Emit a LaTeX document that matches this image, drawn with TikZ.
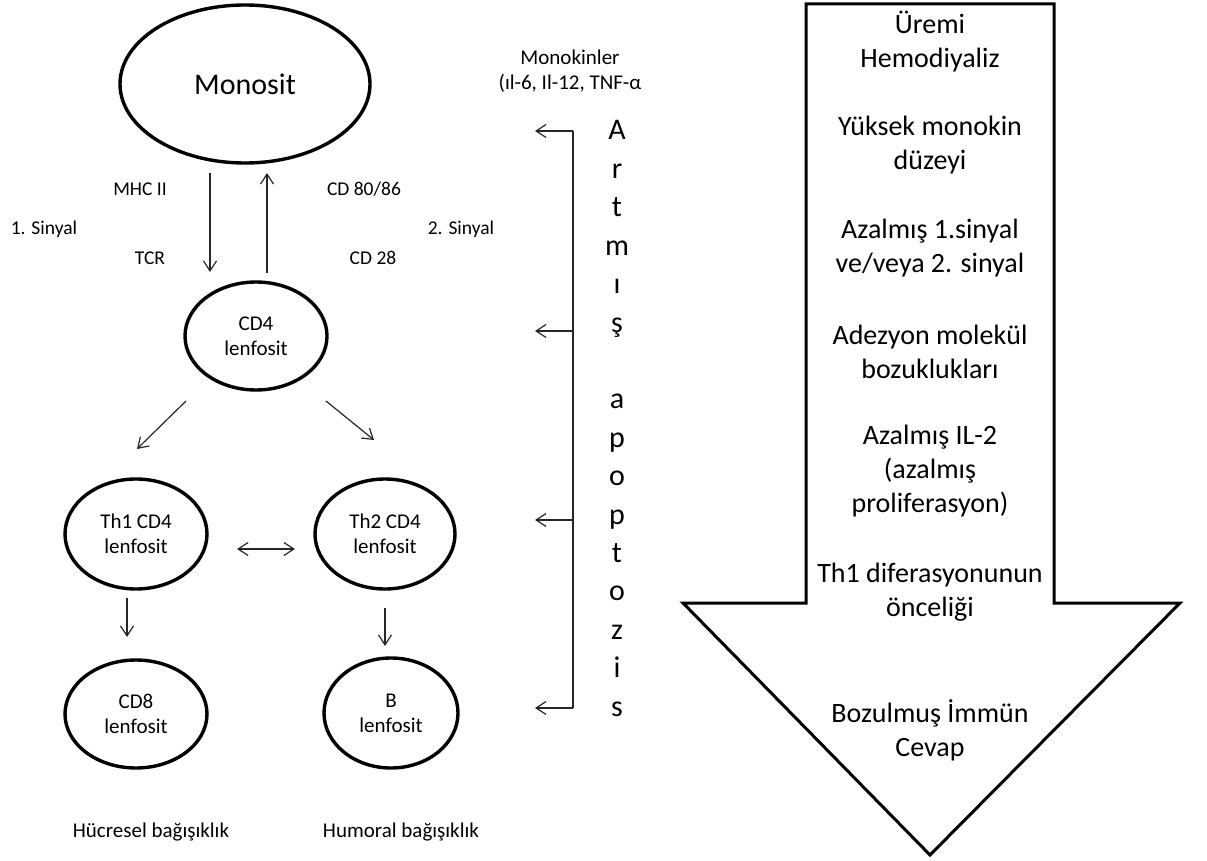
\documentclass[tikz,border=0pt]{standalone}
\usepackage{fontspec}
\setmainfont{Carlito}
\usetikzlibrary{shapes.geometric,arrows.meta}
\begin{document}
\begin{tikzpicture}[x=1pt,y=-1pt,
  cell/.style={ellipse,draw,line width=3.4pt,inner sep=0pt,align=center,
    font=\fontsize{21}{25}\selectfont},
  lbl/.style={font=\fontsize{19.5}{25}\selectfont,align=center,inner sep=0pt},
  conn/.style={line width=1.2pt,draw=black!85,
    -{Straight Barb[length=10pt,width=13pt,line width=1.2pt]}},
  biconn/.style={line width=1.2pt,draw=black!85,
    {Straight Barb[length=10pt,width=13pt,line width=1.2pt]}-{Straight Barb[length=10pt,width=13pt,line width=1.2pt]}},
  big/.style={font=\fontsize{28}{34}\selectfont,align=center,inner sep=0pt},
  vletter/.style={font=\fontsize{30}{36}\selectfont,inner sep=0pt,anchor=base},
]
\useasboundingbox (0,0) rectangle (1207,861);

% cells
\node[cell,minimum width=250pt,minimum height=158pt,font=\fontsize{30}{36}\selectfont] (mono) at (245,84) {Monosit};
\node[cell,minimum width=142pt,minimum height=108pt] (cd4) at (256,336) {CD4\\lenfosit};
\node[cell,minimum width=142pt,minimum height=110pt] (th1) at (136,534) {Th1 CD4\\lenfosit};
\node[cell,minimum width=140pt,minimum height=110pt] (th2) at (385,534) {Th2 CD4\\lenfosit};
\node[cell,minimum width=142pt,minimum height=108pt] (cd8) at (136,714) {CD8\\lenfosit};
\node[cell,minimum width=134pt,minimum height=110pt] (bl) at (391,713) {B\\lenfosit};

% receptor and signal labels
\node[lbl] (mhc) at (140,189) {MHC II};
\node[lbl] (sig1) at (44,229) {1. Sinyal};
\node[lbl] (tcr) at (150,258) {TCR};
\node[lbl] (cd80) at (364,189) {CD 80/86};
\node[lbl] (sig2) at (461,229) {2. Sinyal};
\node[lbl] (cd28) at (373,258) {CD 28};
\node[lbl,font=\fontsize{21}{25}\selectfont] (mk) at (570,71) {Monokinler\\(ıl-6, Il-12, TNF-α};
\node[lbl,font=\fontsize{21}{25}\selectfont] (hb) at (151,832) {Hücresel bağışıklık};
\node[lbl,font=\fontsize{21}{25}\selectfont] (mb) at (401,832) {Humoral bağışıklık};

% arrow end points
\coordinate (d1) at (210,173); \coordinate (d2) at (210,272);
\coordinate (u1) at (267,273); \coordinate (u2) at (267,173);
\coordinate (l1) at (186,401); \coordinate (l2) at (137,449);
\coordinate (r1) at (326,401); \coordinate (r2) at (374,440);
\coordinate (x1) at (237,549); \coordinate (x2) at (295,549);
\coordinate (c1) at (127,598); \coordinate (c2) at (127,637);
\coordinate (b1) at (385,608); \coordinate (b2) at (385,646);

\draw[conn] (d1) -- (d2);
\draw[conn] (u1) -- (u2);
\draw[conn] (l1) -- (l2);
\draw[conn] (r1) -- (r2);
\draw[biconn] (x1) -- (x2);
\draw[conn] (c1) -- (c2);
\draw[conn] (b1) -- (b2);

% apoptosis bracket
\coordinate (k1) at (573,131); \coordinate (h1) at (535,131);
\coordinate (k2) at (573,331); \coordinate (h2) at (535,331);
\coordinate (k3) at (573,520); \coordinate (h3) at (535,520);
\coordinate (k4) at (573,708); \coordinate (h4) at (535,708);
\draw[line width=1.2pt,draw=black!85] (k1) -- (k4);
\foreach \i in {1,2,3,4} \draw[conn] (k\i) -- (h\i);

% vertical caption, one letter per line (slot 6 left empty)
\foreach \ch [count=\n from 0] in {A,r,t,m,ı,ş,{},a,p,o,p,t,o,z,i,s}
  \node[vletter] (v\n) at (617,{140+38.4*\n}) {\ch};

% large block arrow
\draw[line width=3pt,line join=miter] (806,4) -- (1054,4) -- (1054,603) -- (1180,603)
  -- (930,855) -- (683,603) -- (806,603) -- cycle;
\node[big] (s1) at (930,41.5) {Üremi\\Hemodiyaliz};
\node[big] (s2) at (930,145.5) {Yüksek monokin\\düzeyi};
\node[big] (s3) at (930,248.5) {Azalmış 1.sinyal\\ve/veya 2. sinyal};
\node[big] (s4) at (930,351.5) {Adezyon molekül\\bozuklukları};
\node[big] (s5) at (930,471) {Azalmış IL-2\\(azalmış\\proliferasyon)};
\node[big] (s6) at (930,592.5) {Th1 diferasyonunun\\önceliği};
\node[big] (s7) at (930,730) {Bozulmuş İmmün\\Cevap};
\end{tikzpicture}
\end{document}
